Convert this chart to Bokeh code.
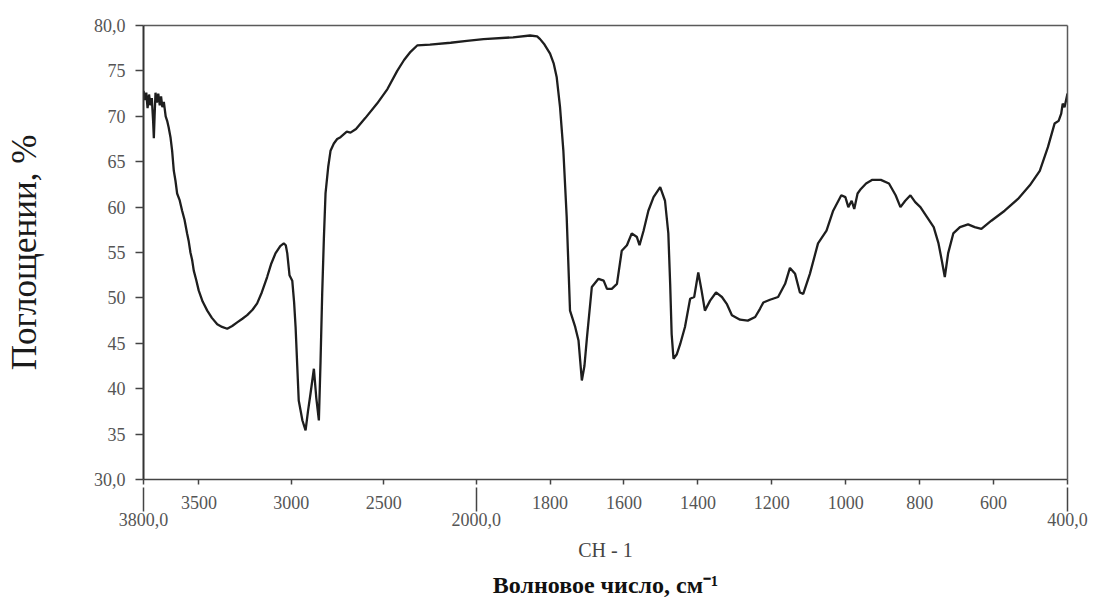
import numpy as np
from bokeh.plotting import figure
from bokeh.models import Range1d, FixedTicker, LinearAxis, Title
from bokeh.embed import file_html
from bokeh.resources import INLINE

# ---- data ----
wavenumber = [3800, 3792, 3785, 3778, 3770, 3762, 3755, 3748, 3744, 3740, 3735, 3728, 3720, 3712,
              3705, 3698, 3690, 3680, 3672, 3664, 3654, 3645, 3636, 3627, 3618, 3605, 3591, 3578,
              3564, 3555, 3546, 3537, 3528, 3515, 3501, 3480, 3455, 3430, 3401, 3375, 3347, 3320,
              3293, 3265, 3239, 3210, 3185, 3160, 3131, 3110, 3086, 3060, 3041, 3030, 3022, 3010,
              2995, 2985, 2977, 2968, 2960, 2940, 2923, 2910, 2896, 2878, 2865, 2851, 2842, 2833,
              2824, 2815, 2800, 2788, 2770, 2752, 2734, 2700, 2680, 2650, 2600, 2536, 2480, 2427,
              2390, 2355, 2319, 2250, 2138, 2050, 1980, 1900, 1854, 1835, 1827, 1815, 1800, 1790,
              1782, 1773, 1764, 1755, 1746, 1732, 1723, 1714, 1707, 1700, 1687, 1669, 1655, 1646,
              1633, 1619, 1606, 1592, 1579, 1565, 1558, 1547, 1534, 1520, 1502, 1489, 1480, 1475,
              1471, 1466, 1457, 1448, 1435, 1421, 1410, 1399, 1390, 1381, 1367, 1351, 1335, 1322,
              1308, 1286, 1265, 1245, 1232, 1223, 1205, 1183, 1164, 1151, 1137, 1124, 1115, 1097,
              1075, 1052, 1034, 1012, 1001, 993, 984, 977, 968, 959, 945, 928, 905, 883, 865, 852,
              839, 825, 812, 798, 780, 762, 749, 740, 732, 723, 709, 691, 669, 651, 633, 606, 570,
              534, 502, 475, 453, 435, 424, 417, 413, 408, 400]
absorbance = [72.8, 71.8, 72.6, 70.9, 72.4, 71.2, 72.0, 69.5, 67.6, 70.0, 72.6, 71.5, 72.5, 71.2,
              72.2, 71.0, 71.6, 70.0, 69.5, 68.8, 67.7, 66.2, 64.0, 62.9, 61.5, 60.8, 59.6, 58.6,
              57.1, 56.2, 55.0, 54.2, 53.0, 52.0, 50.8, 49.6, 48.6, 47.8, 47.1, 46.8, 46.6, 46.9,
              47.3, 47.7, 48.1, 48.7, 49.4, 50.6, 52.3, 53.7, 54.9, 55.7, 56.0, 55.8, 54.9, 52.5,
              51.9, 49.5, 46.8, 42.5, 38.7, 36.5, 35.4, 37.5, 39.5, 42.2, 39.0, 36.5, 43.0, 50.5,
              56.5, 61.5, 64.5, 66.2, 67.0, 67.5, 67.7, 68.3, 68.2, 68.6, 69.8, 71.4, 73.0, 75.0,
              76.2, 77.1, 77.8, 77.9, 78.1, 78.3, 78.5, 78.7, 78.9, 78.8, 78.5, 77.9, 76.9, 75.8,
              74.3, 71.0, 66.2, 58.9, 48.6, 46.8, 45.3, 40.9, 42.5, 45.7, 51.2, 52.1, 51.9, 51.0,
              51.0, 51.55, 55.2, 55.8, 57.1, 56.7, 55.8, 57.4, 59.6, 61.1, 62.2, 60.7, 57.1, 51.5,
              46.0, 43.3, 43.8, 44.9, 46.8, 49.9, 50.1, 52.8, 50.8, 48.6, 49.7, 50.6, 50.1, 49.35,
              48.1, 47.6, 47.5, 47.9, 48.8, 49.5, 49.8, 50.1, 51.55, 53.3, 52.65, 50.6, 50.45, 52.65,
              56.0, 57.4, 59.6, 61.3, 61.1, 60.0, 60.7, 59.8, 61.5, 62.0, 62.6, 63.0, 63.0, 62.6, 61.3, 60.0,
              60.7, 61.3, 60.55, 60.0, 58.9, 57.8, 56.0, 54.1, 52.3, 54.9, 57.1, 57.8, 58.1, 57.8, 57.6, 58.5, 59.6,
              60.9, 62.4, 64.0, 66.6, 69.2, 69.5, 70.3, 71.4, 71.0, 72.5]

x_ticks = [3500, 3000, 2500, 1800, 1600, 1400, 1200, 1000, 800, 600]
x_tick_labels = ["3500", "3000", "2500", "1800", "1600", "1400", "1200", "1000", "800", "600"]
x_end_ticks = [3800, 2000, 400]
x_end_labels = ["3800,0", "2000,0", "400,0"]
y_ticks = [30, 35, 40, 45, 50, 55, 60, 65, 70, 75, 80]
y_tick_labels = ["30,0", "35", "40", "45", "50", "55", "60", "65", "70", "75", "80,0"]


def to_u(x):
    """Spectrometer abscissa: the scale doubles below 2000 cm-1."""
    x = np.asarray(x, dtype=float)
    return np.where(x >= 2000, 3800 - x, 1800 + 2 * (2000 - x))


SERIF = "Liberation Serif"
TICK_COLOR = "#555555"

p = figure(width=1096, height=604, x_range=Range1d(0, 5000), y_range=Range1d(30, 80),
           output_backend="svg", toolbar_location=None,
           min_border_left=143, min_border_right=29, min_border_top=25, min_border_bottom=125)
p.grid.visible = False
p.background_fill_color = "white"
p.border_fill_color = "white"
p.outline_line_color = None

# ---- main x axis (short ticks, ordinary labels) ----
xa = p.xaxis[0]
all_xt = [int(v) for v in to_u(x_ticks + x_end_ticks)]
xa.ticker = FixedTicker(ticks=all_xt)
overrides = {int(u): lab for u, lab in zip(to_u(x_ticks), x_tick_labels)}
for u in to_u(x_end_ticks):
    overrides[int(u)] = ""
xa.major_label_overrides = overrides
xa.major_tick_out = 5
xa.major_tick_in = 0
xa.minor_tick_line_color = None
xa.axis_line_width = 1.5
xa.axis_line_color = "#444444"
xa.major_tick_line_color = "#444444"
xa.major_tick_line_width = 1.5
xa.major_label_text_font = SERIF
xa.major_label_text_font_size = "18px"
xa.major_label_text_color = TICK_COLOR
xa.major_label_standoff = 11

# ---- second x axis: long ticks and labels of the scale ends, plus "CH - 1" ----
xa2 = LinearAxis(ticker=FixedTicker(ticks=[int(v) for v in to_u(x_end_ticks)]),
                 major_label_overrides={int(u): lab for u, lab in zip(to_u(x_end_ticks), x_end_labels)},
                 axis_line_color=None, major_tick_out=0, major_tick_in=24,
                 major_tick_line_color="#444444", major_tick_line_width=1.5,
                 minor_tick_line_color=None,
                 major_label_standoff=1, major_label_text_font=SERIF,
                 major_label_text_font_size="18px", major_label_text_color=TICK_COLOR,
                 axis_label="CH - 1", axis_label_standoff=10,
                 axis_label_text_font=SERIF, axis_label_text_font_size="20px",
                 axis_label_text_font_style="normal", axis_label_text_color="#444444")
p.add_layout(xa2, "below")

# x title (below)
p.add_layout(Title(text="Волновое число, см⁻¹", align="center", text_font=SERIF,
                   text_font_size="24px", text_font_style="bold", text_color="#111111",
                   standoff=13), "below")

# ---- y axis ----
ya = p.yaxis[0]
ya.ticker = FixedTicker(ticks=y_ticks)
ya.major_label_overrides = {t: lab for t, lab in zip(y_ticks, y_tick_labels)}
ya.major_tick_out = 8
ya.major_tick_in = 0
ya.minor_tick_line_color = None
ya.axis_line_width = 2
ya.axis_line_color = "#333333"
ya.major_tick_line_color = "#444444"
ya.major_tick_line_width = 1.5
ya.major_label_text_font = SERIF
ya.major_label_text_font_size = "18px"
ya.major_label_text_color = TICK_COLOR
ya.major_label_standoff = 10
ya.axis_label = "Поглощении, %"
ya.axis_label_standoff = 47
ya.axis_label_text_font = SERIF
ya.axis_label_text_font_size = "35px"
ya.axis_label_text_font_style = "normal"
ya.axis_label_text_color = "#1a1a1a"

# frame lines on top and right
p.add_layout(LinearAxis(ticker=FixedTicker(ticks=[]), axis_line_color="#5a5a5a",
                        axis_line_width=1.5, major_tick_line_color=None,
                        minor_tick_line_color=None, major_label_text_font_size="0px"), "above")
p.add_layout(LinearAxis(ticker=FixedTicker(ticks=[]), axis_line_color="#5a5a5a",
                        axis_line_width=1.5, major_tick_line_color=None,
                        minor_tick_line_color=None, major_label_text_font_size="0px"), "right")

# spectrum
p.line(to_u(wavenumber), absorbance, line_width=2.3, line_color="#1e1e1e")

open("out.html", "w").write(file_html(p, INLINE))
